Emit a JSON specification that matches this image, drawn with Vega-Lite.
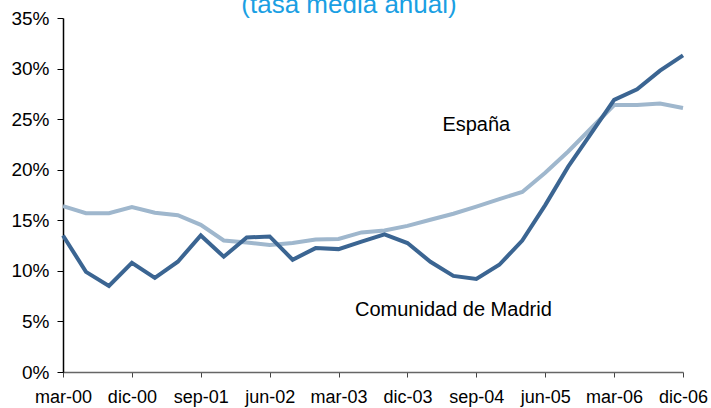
{
  "$schema": "https://vega.github.io/schema/vega-lite/v6.json",
  "width": 620,
  "height": 354,
  "autosize": "none",
  "padding": {"left": 63, "top": 18, "right": 28, "bottom": 36},
  "title": {
    "text": "(tasa media anual)",
    "frame": "group",
    "anchor": "middle",
    "dx": -24,
    "dy": 35,
    "offset": 5,
    "baseline": "alphabetic",
    "fontSize": 26,
    "font": "Liberation Sans",
    "fontWeight": "normal",
    "color": "#1a9fe3"
  },
  "config": {"view": {"stroke": null}, "font": "Liberation Sans"},
  "datasets": {
    "series": [
      {"fecha": "mar-00", "serie": "Comunidad de Madrid", "valor": 13.5},
      {"fecha": "jun-00", "serie": "Comunidad de Madrid", "valor": 9.9},
      {"fecha": "sep-00", "serie": "Comunidad de Madrid", "valor": 8.5},
      {"fecha": "dic-00", "serie": "Comunidad de Madrid", "valor": 10.8},
      {"fecha": "mar-01", "serie": "Comunidad de Madrid", "valor": 9.3},
      {"fecha": "jun-01", "serie": "Comunidad de Madrid", "valor": 10.9},
      {"fecha": "sep-01", "serie": "Comunidad de Madrid", "valor": 13.5},
      {"fecha": "dic-01", "serie": "Comunidad de Madrid", "valor": 11.4},
      {"fecha": "mar-02", "serie": "Comunidad de Madrid", "valor": 13.3},
      {"fecha": "jun-02", "serie": "Comunidad de Madrid", "valor": 13.4},
      {"fecha": "sep-02", "serie": "Comunidad de Madrid", "valor": 11.1},
      {"fecha": "dic-02", "serie": "Comunidad de Madrid", "valor": 12.25},
      {"fecha": "mar-03", "serie": "Comunidad de Madrid", "valor": 12.15},
      {"fecha": "jun-03", "serie": "Comunidad de Madrid", "valor": 12.9},
      {"fecha": "sep-03", "serie": "Comunidad de Madrid", "valor": 13.6},
      {"fecha": "dic-03", "serie": "Comunidad de Madrid", "valor": 12.75},
      {"fecha": "mar-04", "serie": "Comunidad de Madrid", "valor": 10.9},
      {"fecha": "jun-04", "serie": "Comunidad de Madrid", "valor": 9.5},
      {"fecha": "sep-04", "serie": "Comunidad de Madrid", "valor": 9.2},
      {"fecha": "dic-04", "serie": "Comunidad de Madrid", "valor": 10.6},
      {"fecha": "mar-05", "serie": "Comunidad de Madrid", "valor": 13.0},
      {"fecha": "jun-05", "serie": "Comunidad de Madrid", "valor": 16.5},
      {"fecha": "sep-05", "serie": "Comunidad de Madrid", "valor": 20.3},
      {"fecha": "dic-05", "serie": "Comunidad de Madrid", "valor": 23.6},
      {"fecha": "mar-06", "serie": "Comunidad de Madrid", "valor": 26.9},
      {"fecha": "jun-06", "serie": "Comunidad de Madrid", "valor": 27.95},
      {"fecha": "sep-06", "serie": "Comunidad de Madrid", "valor": 29.8},
      {"fecha": "dic-06", "serie": "Comunidad de Madrid", "valor": 31.3},
      {"fecha": "mar-00", "serie": "España", "valor": 16.4},
      {"fecha": "jun-00", "serie": "España", "valor": 15.7},
      {"fecha": "sep-00", "serie": "España", "valor": 15.7},
      {"fecha": "dic-00", "serie": "España", "valor": 16.3},
      {"fecha": "mar-01", "serie": "España", "valor": 15.75},
      {"fecha": "jun-01", "serie": "España", "valor": 15.5},
      {"fecha": "sep-01", "serie": "España", "valor": 14.55},
      {"fecha": "dic-01", "serie": "España", "valor": 13.0},
      {"fecha": "mar-02", "serie": "España", "valor": 12.8},
      {"fecha": "jun-02", "serie": "España", "valor": 12.55},
      {"fecha": "sep-02", "serie": "España", "valor": 12.75},
      {"fecha": "dic-02", "serie": "España", "valor": 13.1},
      {"fecha": "mar-03", "serie": "España", "valor": 13.15},
      {"fecha": "jun-03", "serie": "España", "valor": 13.8},
      {"fecha": "sep-03", "serie": "España", "valor": 14.0},
      {"fecha": "dic-03", "serie": "España", "valor": 14.45},
      {"fecha": "mar-04", "serie": "España", "valor": 15.05},
      {"fecha": "jun-04", "serie": "España", "valor": 15.65},
      {"fecha": "sep-04", "serie": "España", "valor": 16.35},
      {"fecha": "dic-04", "serie": "España", "valor": 17.1},
      {"fecha": "mar-05", "serie": "España", "valor": 17.8},
      {"fecha": "jun-05", "serie": "España", "valor": 19.7},
      {"fecha": "sep-05", "serie": "España", "valor": 21.8},
      {"fecha": "dic-05", "serie": "España", "valor": 24.1},
      {"fecha": "mar-06", "serie": "España", "valor": 26.4},
      {"fecha": "jun-06", "serie": "España", "valor": 26.4},
      {"fecha": "sep-06", "serie": "España", "valor": 26.55},
      {"fecha": "dic-06", "serie": "España", "valor": 26.1}
    ],
    "etiquetas": [
      {"fecha": "sep-04", "valor": 24.4, "texto": "España"},
      {"fecha": "jun-04", "valor": 6.15, "texto": "Comunidad de Madrid"}
    ]
  },
  "encoding": {
    "x": {
      "field": "fecha",
      "type": "ordinal",
      "sort": null,
      "scale": {"type": "point", "padding": 0},
      "axis": {
        "title": null,
        "values": ["mar-00", "dic-00", "sep-01", "jun-02", "mar-03", "dic-03", "sep-04", "jun-05", "mar-06", "dic-06"],
        "labelAngle": 0,
        "labelFontSize": 18,
        "labelColor": "#000000",
        "labelPadding": 11,
        "tickSize": 5,
        "tickColor": "#444444",
        "domainColor": "#666666",
        "domainWidth": 1.5,
        "grid": false
      }
    },
    "y": {
      "field": "valor",
      "type": "quantitative",
      "scale": {"domain": [0, 35], "nice": false},
      "axis": {
        "title": null,
        "values": [0, 5, 10, 15, 20, 25, 30, 35],
        "labelExpr": "datum.value + '%'",
        "labelFontSize": 19,
        "labelColor": "#000000",
        "labelPadding": 8,
        "tickSize": 6,
        "tickColor": "#000000",
        "domainColor": "#000000",
        "domainWidth": 1.5,
        "grid": false
      }
    }
  },
  "layer": [
    {
      "data": {"name": "series"},
      "transform": [{"filter": "datum.serie === 'España'"}],
      "mark": {"type": "line", "strokeWidth": 4, "color": "#9fb7cd"}
    },
    {
      "data": {"name": "series"},
      "transform": [{"filter": "datum.serie === 'Comunidad de Madrid'"}],
      "mark": {"type": "line", "strokeWidth": 4, "color": "#3b6592"}
    },
    {
      "data": {"name": "etiquetas"},
      "mark": {"type": "text", "fontSize": 20, "color": "#000000", "align": "center", "baseline": "middle"},
      "encoding": {"text": {"field": "texto"}}
    }
  ]
}
